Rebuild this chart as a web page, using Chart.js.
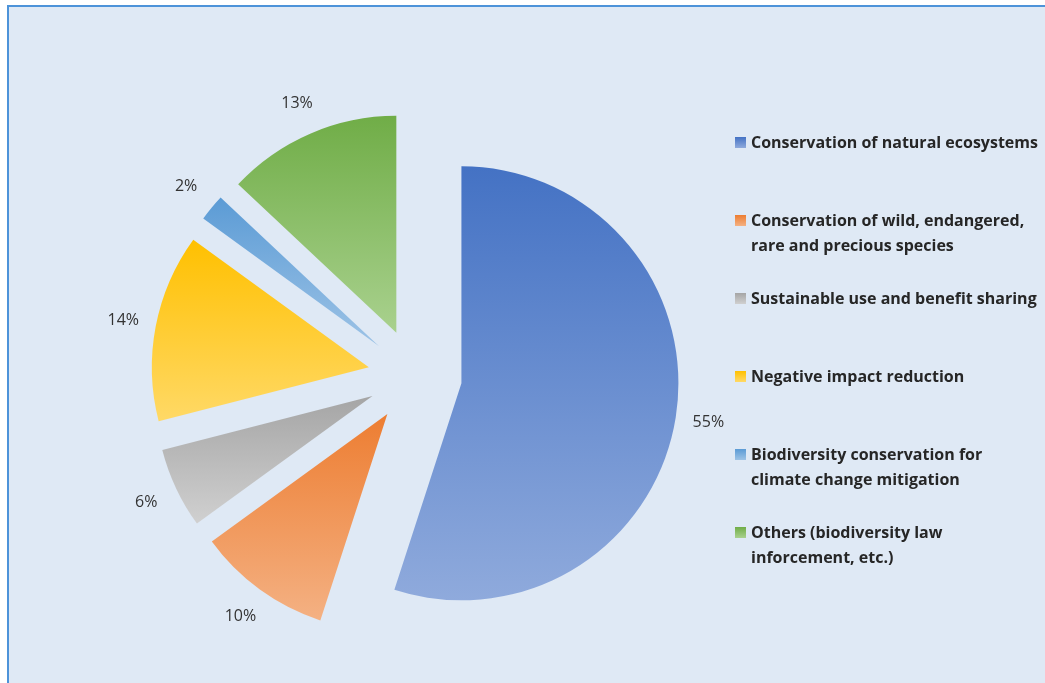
<!DOCTYPE html>
<html>
<head>
<meta charset="utf-8">
<script src="https://cdn.jsdelivr.net/npm/chart.js@4"></script>
<style>
  html, body { margin: 0; padding: 0; background: #fff; }
  #frame { position: absolute; left: 7px; top: 5px; width: 1100px; height: 700px; border: 2px solid #4d93d9; background: #dfe9f5; }
  #wrap { position: absolute; left: 0; top: 0; width: 1045px; height: 683px; }
</style>
</head>
<body>
<div id="frame"></div>
<div id="wrap"><canvas id="ChartPie"></canvas></div>
<script>
var labels = [
    ['Conservation of natural ecosystems'],
    ['Conservation of wild, endangered,', 'rare and precious species'],
    ['Sustainable use and benefit sharing'],
    ['Negative impact reduction'],
    ['Biodiversity conservation for', 'climate change mitigation'],
    ['Others (biodiversity law', 'inforcement, etc.)']
];
var values = [55, 10, 6, 14, 2, 13];
var topColors = ['#4472c4', '#ed7d31', '#a5a5a5', '#ffc000', '#5b9bd5', '#70ad47'];
var bottomColors = ['#8faadc', '#f4b183', '#d0d0d0', '#ffd966', '#9dc3e6', '#a9d18e'];

var explode = 47;

function includesAngle(a, start, end) {
    return a >= start - 1e-6 && a <= end + 1e-6;
}

// pull every slice out along its middle and give it a vertical gradient
var explodePlugin = {
    id: 'explode',
    afterDatasetsUpdate: function (chart) {
        var ctx = chart.ctx;
        var arcs = chart.getDatasetMeta(0).data;
        arcs.forEach(function (arc, i) {
            var mid = (arc.startAngle + arc.endAngle) / 2;
            arc.x += Math.cos(mid) * explode;
            arc.y += Math.sin(mid) * explode;

            var r = arc.outerRadius;
            var ys = [arc.y, arc.y + Math.sin(arc.startAngle) * r, arc.y + Math.sin(arc.endAngle) * r];
            if (includesAngle(-Math.PI / 2, arc.startAngle, arc.endAngle) || includesAngle(Math.PI * 1.5, arc.startAngle, arc.endAngle)) {
                ys.push(arc.y - r);
            }
            if (includesAngle(Math.PI / 2, arc.startAngle, arc.endAngle)) {
                ys.push(arc.y + r);
            }
            var g = ctx.createLinearGradient(0, Math.min.apply(null, ys), 0, Math.max.apply(null, ys));
            g.addColorStop(0, topColors[i]);
            g.addColorStop(1, bottomColors[i]);
            arc.options = Object.assign({}, arc.options, { backgroundColor: g });
        });
    }
};

var labelPlugin = {
    id: 'pctLabels',
    afterDatasetsDraw: function (chart) {
        var ctx = chart.ctx;
        var arcs = chart.getDatasetMeta(0).data;
        ctx.save();
        ctx.font = '16px "Open Sans"';
        ctx.fillStyle = '#333333';
        ctx.textAlign = 'center';
        ctx.textBaseline = 'middle';
        arcs.forEach(function (arc, i) {
            var mid = (arc.startAngle + arc.endAngle) / 2;
            var d = arc.outerRadius + 33;
            ctx.fillText(values[i] + '%', arc.x + Math.cos(mid) * d, arc.y + Math.sin(mid) * d);
        });
        ctx.restore();
    }
};

var legendPlugin = {
    id: 'sideLegend',
    afterDraw: function (chart) {
        var ctx = chart.ctx;
        ctx.save();
        ctx.font = 'bold 16px "Open Sans"';
        ctx.textBaseline = 'middle';
        labels.forEach(function (lines, i) {
            var y = 142 + i * 78;
            var g = ctx.createLinearGradient(0, y - 5, 0, y + 6);
            g.addColorStop(0, topColors[i]);
            g.addColorStop(1, bottomColors[i]);
            ctx.fillStyle = g;
            ctx.fillRect(735, y - 5, 11, 11);
            ctx.fillStyle = '#262626';
            lines.forEach(function (line, j) {
                ctx.fillText(line, 751, y + 1 + j * 25);
            });
        });
        ctx.restore();
    }
};

function CreatePie() {
    var ctx = document.getElementById('ChartPie').getContext('2d');
    var chart = new Chart(ctx, {
        type: 'pie',
        data: {
            labels: labels,
            datasets: [{
                data: values,
                backgroundColor: topColors,
                borderWidth: 0,
                radius: 217
            }]
        },
        options: {
            responsive: true,
            maintainAspectRatio: false,
            animation: false,
            layout: { padding: { left: 0, right: 215, top: 69, bottom: 0 } },
            plugins: {
                legend: { display: false },
                tooltip: { enabled: false }
            }
        },
        plugins: [explodePlugin, labelPlugin, legendPlugin]
    });
}

CreatePie();
</script>
</body>
</html>
